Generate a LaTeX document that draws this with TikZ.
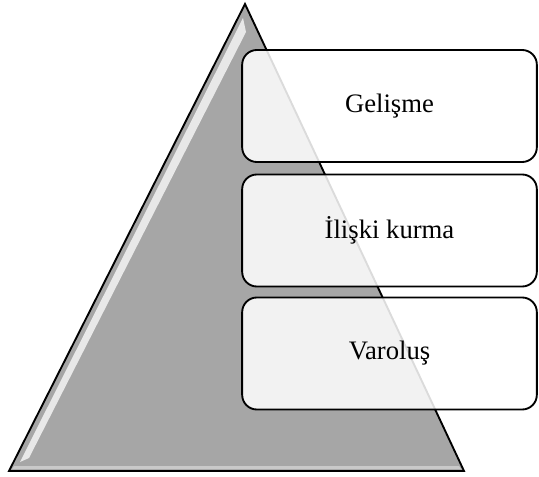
\documentclass[tikz,border=0pt]{standalone}
\usepackage{fontspec}
\setmainfont{Liberation Serif}
\usepackage{tikz}
\definecolor{pyrgray}{RGB}{166,166,166}

\begin{document}
\begin{tikzpicture}
    [
        x=0.75pt, y=-0.75pt,
        level box/.style={draw=black, line width=1.4pt, rounded corners=11pt,
            fill=white, fill opacity=0.86, text opacity=1,
            minimum width=221pt, minimum height=84pt,
            font=\fontsize{20}{24}\selectfont}
    ]
    \useasboundingbox (0,0) rectangle (539,477);
    % pyramid
    \draw[line width=1.4pt, fill=pyrgray, line join=miter] (245,4) -- (464,471) -- (9,471) -- cycle;
    \fill[white, opacity=0.75] (243,18) -- (20,462) -- (29,458) -- (246,32) -- cycle;
    \fill[white, opacity=0.4] (14,466) -- (459,466) -- (461,469) -- (12,469) -- cycle;
    % levels
    \node[level box] (top) at (389.5,106) {Gelişme};
    \node[level box] (mid) at (389.5,230.5) {İlişki kurma};
    \node[level box] (low) at (389.5,353.5) {Varoluş};
\end{tikzpicture}
\end{document}
